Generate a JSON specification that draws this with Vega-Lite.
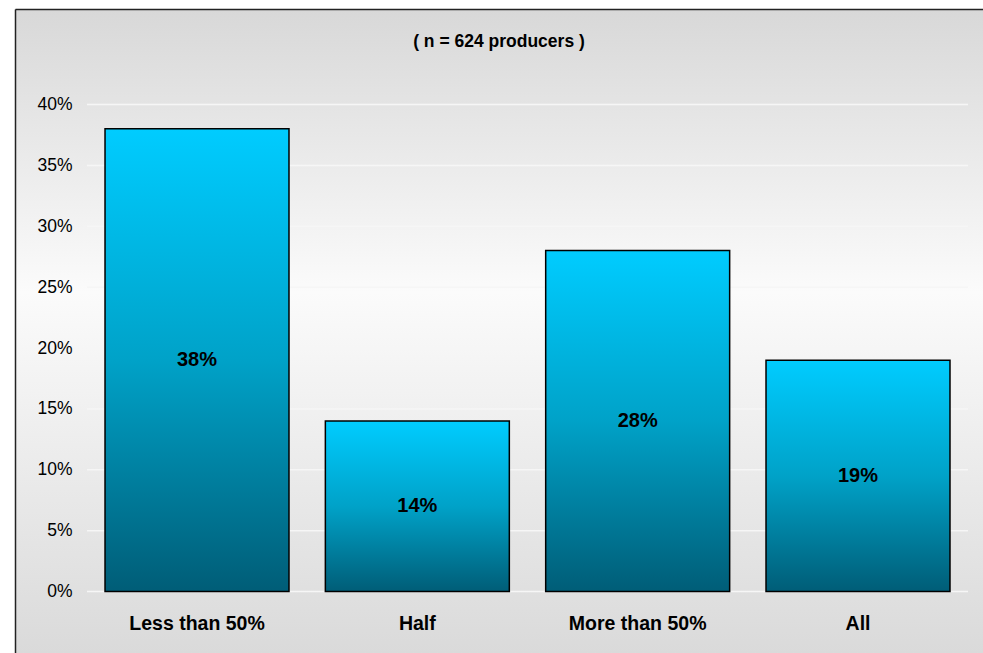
{
  "$schema": "https://vega.github.io/schema/vega-lite/v6.json",
  "usermeta": {"embedOptions": {"actions": false}},
  "autosize": "none",
  "padding": {"left": 15, "top": 9, "right": 0, "bottom": 0},
  "width": 968,
  "height": 644,
  "background": "white",
  "title": {
    "text": "( n = 624 producers )",
    "font": "Liberation Sans",
    "fontSize": 17.5,
    "fontWeight": "bold",
    "color": "black",
    "anchor": "middle",
    "baseline": "alphabetic",
    "offset": -55
  },
  "config": {
    "font": "Liberation Sans",
    "view": {
      "stroke": null,
      "fill": {
        "gradient": "linear",
        "x1": 0, "y1": 0, "x2": 0, "y2": 1,
        "stops": [
          {"offset": 0, "color": "#d8d8d8"},
          {"offset": 0.44, "color": "#fbfbfb"},
          {"offset": 1, "color": "#dadada"}
        ]
      }
    }
  },
  "datasets": {
    "shares": [
      {"category": "Less than 50%", "share": 0.38},
      {"category": "Half", "share": 0.14},
      {"category": "More than 50%", "share": 0.28},
      {"category": "All", "share": 0.19}
    ],
    "ticks": [
      {"tick": 0}, {"tick": 0.05}, {"tick": 0.1}, {"tick": 0.15}, {"tick": 0.2},
      {"tick": 0.25}, {"tick": 0.3}, {"tick": 0.35}, {"tick": 0.4}
    ]
  },
  "encoding": {
    "x": {
      "field": "category",
      "type": "nominal",
      "sort": ["Less than 50%", "Half", "More than 50%", "All"],
      "scale": {"paddingInner": 0.165, "paddingOuter": 0.2792, "align": 0.7317},
      "axis": {
        "title": null,
        "orient": "top",
        "offset": 0,
        "domain": true,
        "domainColor": "#222222",
        "domainWidth": 1.5,
        "ticks": false,
        "tickSize": 0,
        "labelAngle": 0,
        "labelBaseline": "alphabetic",
        "labelPadding": -620.5,
        "labelFont": "Liberation Sans",
        "labelFontSize": 19.5,
        "labelFontWeight": "bold",
        "labelColor": "black"
      }
    }
  },
  "layer": [
    {
      "data": {"name": "ticks"},
      "mark": {"type": "rule", "stroke": "#f6f6f6", "strokeWidth": 1.5},
      "encoding": {
        "x": {"datum": "Less than 50%", "bandPosition": -0.098},
        "x2": {"datum": "All", "bandPosition": 1.098},
        "y": {"field": "tick", "type": "quantitative"}
      }
    },
    {
      "data": {"name": "shares"},
      "mark": {
        "type": "bar",
        "stroke": "black",
        "strokeWidth": 1.5,
        "fill": {
          "gradient": "linear",
          "x1": 0, "y1": 0, "x2": 0, "y2": 1,
          "stops": [
            {"offset": 0, "color": "#00ccff"},
            {"offset": 0.5, "color": "#00a2c8"},
            {"offset": 1, "color": "#005d77"}
          ]
        }
      },
      "encoding": {
        "y": {
          "field": "share",
          "type": "quantitative",
          "scale": {"domain": [-0.05051, 0.47844], "nice": false, "zero": false},
          "axis": {
            "title": null,
            "orient": "left",
            "offset": 0,
            "values": [0, 0.05, 0.1, 0.15, 0.2, 0.25, 0.3, 0.35, 0.4],
            "format": ".0%",
            "domain": true,
            "domainColor": "#222222",
            "domainWidth": 1.5,
            "ticks": false,
            "tickSize": 0,
            "grid": false,
            "labelAlign": "right",
            "labelPadding": -57,
            "labelFont": "Liberation Sans",
            "labelFontSize": 17.5,
            "labelColor": "black"
          }
        },
        "y2": {"datum": 0}
      }
    },
    {
      "data": {"name": "shares"},
      "transform": [{"calculate": "datum.share / 2", "as": "mid"}],
      "mark": {
        "type": "text",
        "font": "Liberation Sans",
        "fontSize": 20,
        "fontWeight": "bold",
        "color": "black",
        "baseline": "middle",
        "align": "center"
      },
      "encoding": {
        "y": {"field": "mid", "type": "quantitative"},
        "text": {"field": "share", "type": "quantitative", "format": ".0%"}
      }
    }
  ]
}
